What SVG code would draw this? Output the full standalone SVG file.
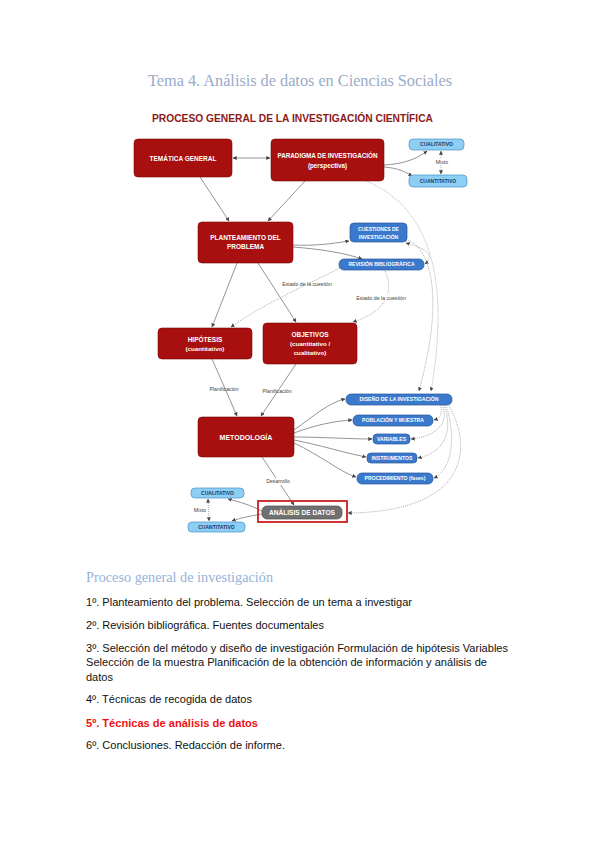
<svg xmlns="http://www.w3.org/2000/svg" width="599" height="848" viewBox="0 0 599 848">
<defs>
<style>
.red{fill:#a80f0f;stroke:#7a0a0a;stroke-width:0.6}
.blue{fill:#3a79cc;stroke:#25579a;stroke-width:0.7}
.lb{fill:#8dcff4;stroke:#4a8fc6;stroke-width:0.7}
.gray{fill:#707070;stroke:#4e4e4e;stroke-width:0.7}
.tw{font-family:"Liberation Sans",Arial,sans-serif;font-weight:bold;fill:#fff;text-anchor:middle}
.tn{font-family:"Liberation Sans",Arial,sans-serif;font-weight:bold;fill:#1d3a68;text-anchor:middle;font-size:5px}
.lbl{font-family:"Liberation Sans",Arial,sans-serif;fill:#444;font-size:5.2px;text-anchor:middle}
.ln{fill:none;stroke:#7a7a7a;stroke-width:0.8}
.dt{fill:none;stroke:#8a8a8a;stroke-width:0.7;stroke-dasharray:1,1}
.body{font-family:"Liberation Sans",Arial,sans-serif;font-size:11px;fill:#111}
</style>
<marker id="ah" viewBox="0 0 6 6" refX="5.5" refY="3" markerWidth="4" markerHeight="4" markerUnits="userSpaceOnUse" orient="auto-start-reverse">
<path d="M0,0 L6,3 L0,6 z" fill="#444"/>
</marker>
</defs>
<rect width="599" height="848" fill="#fff"/>

<text x="300" y="86" text-anchor="middle" font-family="'Liberation Serif',Cambria,serif" font-size="17" fill="#9aabc9" textLength="304" lengthAdjust="spacingAndGlyphs">Tema 4. Análisis de datos en Ciencias Sociales</text>
<text x="152" y="122" font-family="'Liberation Sans',Arial,sans-serif" font-weight="bold" font-size="10" fill="#8b1a1a" textLength="281" lengthAdjust="spacingAndGlyphs">PROCESO GENERAL DE LA INVESTIGACIÓN CIENTÍFICA</text>

<g id="connectors">
<path class="ln" d="M233,158 L270,158" marker-start="url(#ah)" marker-end="url(#ah)"/>
<path class="ln" d="M384,165 C405,164 418,158 427,151" marker-end="url(#ah)"/>
<path class="ln" d="M384,167 C398,168 406,172 412,176" marker-end="url(#ah)"/>
<path class="dt" d="M441,151 L441,174" marker-start="url(#ah)" marker-end="url(#ah)"/>
<path class="ln" d="M200,177 L229,221" marker-end="url(#ah)"/>
<path class="ln" d="M305,181 L268,221" marker-end="url(#ah)"/>
<path d="M366,181 C425,205 452,270 431,391" fill="none" stroke="#aaa" stroke-width="0.7" stroke-dasharray="1.2,0.8" marker-end="url(#ah)"/>
<path class="dt" d="M406,243 C425,248 436,255 425,264" marker-start="url(#ah)" marker-end="url(#ah)"/>
<path class="dt" d="M408,240 C432,250 444,300 419,391" marker-end="url(#ah)"/>
<path class="ln" d="M293,245 C315,246 330,244 349,241" marker-end="url(#ah)"/>
<path class="ln" d="M293,247 C320,249 345,253 362,259" marker-end="url(#ah)"/>
<path class="ln" d="M237,263 L212,327" marker-end="url(#ah)"/>
<path class="ln" d="M258,263 L296,322" marker-end="url(#ah)"/>
<path class="dt" d="M340,268 C300,288 262,305 231,327" marker-end="url(#ah)"/>
<path class="dt" d="M385,271 C395,292 385,312 353,322" marker-end="url(#ah)"/>
<path class="ln" d="M212,359 L237,416" marker-end="url(#ah)"/>
<path class="ln" d="M296,364 L261,416" marker-end="url(#ah)"/>
<path class="ln" d="M294,430 C315,415 330,402 345,399" marker-end="url(#ah)"/>
<path class="ln" d="M294,433 C315,425 335,421 352,420" marker-end="url(#ah)"/>
<path class="ln" d="M294,437 C320,437 350,439 372,439" marker-end="url(#ah)"/>
<path class="ln" d="M294,440 C320,445 345,453 366,457" marker-end="url(#ah)"/>
<path class="ln" d="M294,443 C320,455 340,472 356,477" marker-end="url(#ah)"/>
<path class="dt" d="M440,405 C443,412 441,418 434,420" marker-end="url(#ah)"/>
<path class="dt" d="M442,405 C449,420 440,436 411,439" marker-end="url(#ah)"/>
<path class="dt" d="M444,405 C453,430 446,452 418,458" marker-end="url(#ah)"/>
<path class="dt" d="M446,405 C457,440 451,470 434,478" marker-end="url(#ah)"/>
<path class="dt" d="M448,404 C475,450 466,512 348,513" marker-end="url(#ah)"/>
<path class="ln" d="M262,457 L294,505" marker-end="url(#ah)"/>
<path class="ln" d="M262,511 C250,505 240,502 228,499" marker-end="url(#ah)"/>
<path class="ln" d="M262,514 C250,516 240,518 232,521" marker-end="url(#ah)"/>
<path class="dt" d="M208,499 L209,521" marker-start="url(#ah)" marker-end="url(#ah)"/>
</g>

<g id="labels">
<rect x="435" y="158" width="15" height="7" fill="#fff"/>
<text class="lbl" x="442" y="164">Mixto</text>
<text class="lbl" x="307" y="286">Estado de la cuestión</text>
<rect x="355" y="294" width="52" height="7" fill="#fff"/>
<text class="lbl" x="381" y="300">Estado de la cuestión</text>
<text class="lbl" x="224" y="391">Planificación</text>
<text class="lbl" x="277" y="393">Planificación</text>
<rect x="265" y="478" width="27" height="7" fill="#fff"/>
<text class="lbl" x="278" y="483">Desarrollo</text>
<text class="lbl" x="200" y="512">Mixto</text>
</g>

<g id="tematica"><rect class="red" x="134" y="139" width="98" height="38" rx="4"/><text class="tw" x="183" y="160.5" font-size="6.5">TEMÁTICA GENERAL</text></g>
<g id="paradigma"><rect class="red" x="271" y="139" width="113" height="42" rx="4"/><text class="tw" x="327.5" y="158" font-size="6.3">PARADIGMA DE INVESTIGACIÓN</text><text class="tw" x="327.5" y="168" font-size="6.3">(perspectiva)</text></g>
<g id="cualitativo1"><rect class="lb" x="409" y="139" width="55" height="11" rx="4"/><text class="tn" x="436.5" y="146.3">CUALITATIVO</text></g>
<g id="cuantitativo1"><rect class="lb" x="409" y="175" width="58" height="12" rx="4"/><text class="tn" x="438" y="182.8">CUANTITATIVO</text></g>
<g id="planteamiento"><rect class="red" x="198" y="222" width="95" height="41" rx="4"/><text class="tw" x="245.5" y="240" font-size="6.5">PLANTEAMIENTO DEL</text><text class="tw" x="245.5" y="249" font-size="6.5">PROBLEMA</text></g>
<g id="cuestiones"><rect class="blue" x="350" y="223" width="57" height="19" rx="4"/><text class="tw" x="378.5" y="231" font-size="5">CUESTIONES DE</text><text class="tw" x="378.5" y="239" font-size="5">INVESTIGACIÓN</text></g>
<g id="revision"><rect class="blue" x="339" y="259" width="85" height="11" rx="5"/><text class="tw" x="381.5" y="266.3" font-size="5.1">REVISIÓN BIBLIOGRÁFICA</text></g>
<g id="hipotesis"><rect class="red" x="158" y="328" width="94" height="31" rx="4"/><text class="tw" x="205" y="342" font-size="6.5">HIPÓTESIS</text><text class="tw" x="205" y="351" font-size="6.2">(cuantitativo)</text></g>
<g id="objetivos"><rect class="red" x="263" y="323" width="94" height="41" rx="4"/><text class="tw" x="310" y="337" font-size="6.5">OBJETIVOS</text><text class="tw" x="310" y="346" font-size="6.2">(cuantitativo /</text><text class="tw" x="310" y="354.5" font-size="6.2">cualitativo)</text></g>
<g id="diseno"><rect class="blue" x="346" y="394" width="106" height="11" rx="5"/><text class="tw" x="399" y="401.4" font-size="5.2">DISEÑO DE LA INVESTIGACIÓN</text></g>
<g id="metodologia"><rect class="red" x="198" y="417" width="96" height="40" rx="4"/><text class="tw" x="246" y="439.5" font-size="7">METODOLOGÍA</text></g>
<g id="poblacion"><rect class="blue" x="353" y="415" width="80" height="11" rx="5"/><text class="tw" x="393" y="422.4" font-size="5.1">POBLACIÓN Y MUESTRA</text></g>
<g id="variables"><rect class="blue" x="373" y="434" width="37" height="10" rx="4"/><text class="tw" x="391.5" y="440.9" font-size="5.1">VARIABLES</text></g>
<g id="instrumentos"><rect class="blue" x="367" y="453" width="50" height="10" rx="4"/><text class="tw" x="392" y="459.9" font-size="5.1">INSTRUMENTOS</text></g>
<g id="procedimiento"><rect class="blue" x="357" y="473" width="76" height="11" rx="5"/><text class="tw" x="395" y="480.4" font-size="5.1">PROCEDIMIENTO (fases)</text></g>
<g id="cualitativo2"><rect class="lb" x="191" y="488" width="53" height="10" rx="4"/><text class="tn" x="217.5" y="494.8">CUALITATIVO</text></g>
<g id="cuantitativo2"><rect class="lb" x="188" y="522" width="57" height="10" rx="4"/><text class="tn" x="216.5" y="528.8">CUANTITATIVO</text></g>
<g id="analisis"><rect x="258" y="501" width="89" height="21" fill="none" stroke="#cc2020" stroke-width="1.8"/><rect class="gray" x="262" y="506" width="80" height="13" rx="5"/><text class="tw" x="302" y="515" font-size="6.6">ANÁLISIS DE DATOS</text></g>

<g id="body">
<text x="86" y="582" font-family="'Liberation Serif',Cambria,serif" font-size="15" fill="#95b3d7" textLength="187" lengthAdjust="spacingAndGlyphs">Proceso general de investigación</text>
<text class="body" x="86" y="606" textLength="326" lengthAdjust="spacingAndGlyphs">1º. Planteamiento del problema. Selección de un tema a investigar</text>
<text class="body" x="86" y="629" textLength="238" lengthAdjust="spacingAndGlyphs">2º. Revisión bibliográfica. Fuentes documentales</text>
<text class="body" x="86" y="652" textLength="422" lengthAdjust="spacingAndGlyphs">3º. Selección del método y diseño de investigación Formulación de hipótesis Variables</text>
<text class="body" x="86" y="666" textLength="401" lengthAdjust="spacingAndGlyphs">Selección de la muestra Planificación de la obtención de información y análisis de</text>
<text class="body" x="86" y="681">datos</text>
<text class="body" x="86" y="703" textLength="166" lengthAdjust="spacingAndGlyphs">4º. Técnicas de recogida de datos</text>
<text class="body" x="86" y="727" font-weight="bold" fill="#ee1111" style="fill:#ee1111" textLength="172" lengthAdjust="spacingAndGlyphs">5º. Técnicas de análisis de datos</text>
<text class="body" x="86" y="749" textLength="199" lengthAdjust="spacingAndGlyphs">6º. Conclusiones. Redacción de informe.</text>
</g>
</svg>
